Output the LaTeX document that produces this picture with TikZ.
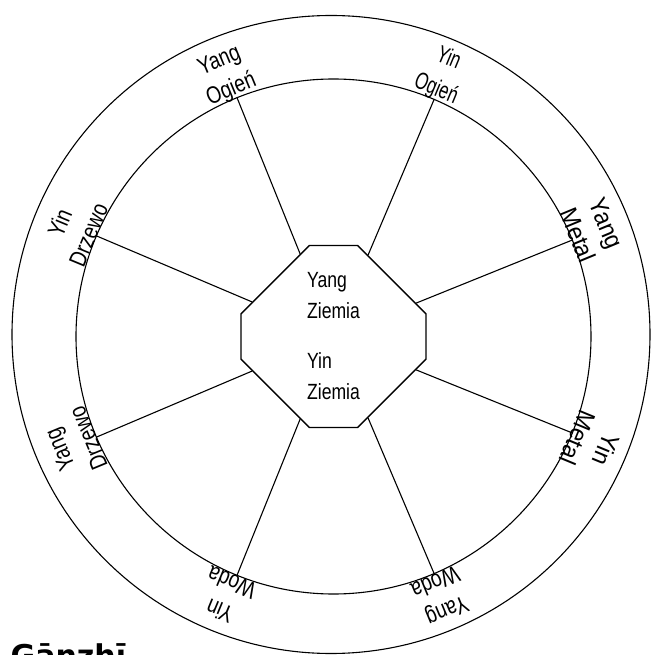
\documentclass[tikz,border=0pt]{standalone}
\usepackage{fontspec}
\usepackage{tikz}
\usetikzlibrary{shapes.misc}
\newfontfamily\ringfont{Liberation Sans}[FakeStretch=0.8]
\newfontfamily\condfont{Liberation Sans}[FakeStretch=0.7]
\newfontfamily\wideringfont{Liberation Sans}[FakeStretch=0.92]
\newfontfamily\titlefont{DejaVu Sans}

\begin{document}
\begin{tikzpicture}[
    x=1pt,y=1pt,
    ring/.style={draw,circle,line width=1.1pt,inner sep=0pt},
    earth/.style={draw,chamfered rectangle,chamfered rectangle xsep=42pt,chamfered rectangle ysep=42pt,line width=1.4pt,minimum width=185pt,minimum height=182pt,inner sep=0pt,align=left,font=\ringfont\fontsize{22}{31}\selectfont},
    lbl/.style={align=center,inner sep=0pt,font=\ringfont\fontsize{24}{31}\selectfont},
    lblc/.style={lbl,font=\condfont\fontsize{24}{33}\selectfont},
    lblw/.style={lbl,font=\wideringfont\fontsize{25}{31}\selectfont},
    spoke/.style={line width=1.1pt},
]
\useasboundingbox (-333.5,-318.5) rectangle (317.5,336.5);
\clip (-333.5,-318.5) rectangle (317.5,336.5);
% circles and centre
\node[ring,minimum size=638pt](outer)at(-2.5,2){};
\node[ring,minimum size=515pt](inner)at(0,0){};
\node[earth](ziemia)at(0,0){Yang\\Ziemia\\[19pt]Yin\\Ziemia};
% spokes
\draw[spoke](ziemia.112.5)--(inner.112.5);
\draw[spoke](ziemia.67.5)--(inner.67.5);
\draw[spoke](ziemia.22.5)--(inner.22.5);
\draw[spoke](ziemia.-22.5)--(inner.-22.5);
\draw[spoke](ziemia.-67.5)--(inner.-67.5);
\draw[spoke](ziemia.-112.5)--(inner.-112.5);
\draw[spoke](ziemia.-157.5)--(inner.-157.5);
\draw[spoke](ziemia.157.5)--(inner.157.5);
% ring labels
\node[lbl,rotate=22.5](yangOgien)at(112.5:282){Yang\\Ogień};
\node[lblc,rotate=-22.5](yinOgien)at(67.5:284){Yin\\Ogień};
\node[lblw,rotate=-67.5](yangMetal)at(22.5:280){Yang\\Metal};
\node[lblw,rotate=-112.5](yinMetal)at(-22.5:280){Yin\\Metal};
\node[lbl,rotate=-157.5](yangWoda)at(-67.5:282){Yang\\Woda};
\node[lbl,rotate=157.5](yinWoda)at(-112.5:282){Yin\\Woda};
\node[lbl,rotate=112.5](yangDrzewo)at(-157.5:281){Yang\\Drzewo};
\node[lbl,rotate=67.5](yinDrzewo)at(157.5:281){Yin\\Drzewo};
% caption, cut by the page
\node[anchor=base west,inner sep=0pt,font=\titlefont\bfseries\fontsize{30}{36}\selectfont](title)at(-323,-329.5){Gānzhī};
\end{tikzpicture}
\end{document}
